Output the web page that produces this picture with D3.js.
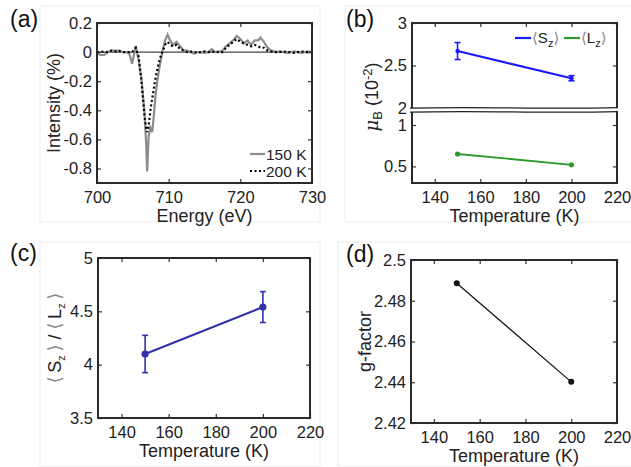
<!DOCTYPE html>
<html>
<head>
<meta charset="utf-8">
<script src="https://cdn.jsdelivr.net/npm/d3@7"></script>
<style>
body { margin: 0; background: #fff; }
svg { font-family: "Liberation Sans", Arial, "DejaVu Sans", sans-serif; }
</style>
</head>
<body>
<div id="chart"></div>
<script>
const w = 631;
const h = 467;

// (a) XMCD spectra
const energy = [700, 700.5, 701, 701.5, 702, 702.5, 703, 703.5, 704, 704.5, 704.9, 705.4, 705.8, 706.2, 706.6, 706.85, 707.0, 707.2, 707.45, 707.7, 707.9, 708.2, 708.5, 708.8, 709.2, 709.5, 709.85, 710.2, 710.6, 711.1, 711.6, 712.1, 712.6, 713, 713.5, 714, 714.5, 715, 715.5, 716, 716.5, 717, 717.5, 718, 718.5, 719, 719.5, 720, 720.5, 721, 721.5, 722, 722.5, 722.8, 723.3, 723.8, 724.3, 725, 725.5, 726, 726.5, 727, 727.5, 728, 728.5, 729, 729.5, 730];
const int150 = [-0.01, -0.02, -0.02, 0.0, 0.01, 0.01, 0.01, 0.0, 0.0, -0.01, -0.08, 0.04, -0.05, -0.18, -0.40, -0.62, -0.82, -0.58, -0.52, -0.55, -0.45, -0.28, -0.17, -0.08, 0.02, 0.08, 0.12, 0.08, 0.05, 0.07, 0.04, 0.01, 0.01, 0.0, -0.01, 0.0, 0.0, -0.005, 0.0, 0.02, 0.0, 0.0, 0.01, 0.04, 0.06, 0.08, 0.11, 0.09, 0.06, 0.08, 0.05, 0.08, 0.08, 0.10, 0.07, 0.03, 0.01, 0.0, 0.005, 0.0, -0.005, 0.0, 0.005, 0.0, -0.005, 0.0, 0.005, 0.0];
const int200 = [0.0, 0.0, 0.005, 0.0, 0.01, 0.005, 0.01, 0.0, 0.0, 0.0, 0.0, 0.03, -0.03, -0.20, -0.42, -0.52, -0.55, -0.51, -0.40, -0.32, -0.26, -0.17, -0.10, -0.04, 0.01, 0.05, 0.07, 0.05, 0.04, 0.05, 0.02, 0.01, 0.0, 0.005, 0.0, -0.005, 0.0, 0.005, 0.0, 0.0, 0.005, 0.0, 0.0, 0.03, 0.05, 0.07, 0.09, 0.07, 0.06, 0.05, 0.04, 0.05, 0.04, 0.03, 0.03, 0.01, 0.005, 0.0, 0.0, 0.005, 0.0, 0.0, -0.005, 0.0, 0.005, 0.0, 0.0, 0.0];
const xTicksA = [700, 710, 720, 730];
const yTicksA = [-0.8, -0.6, -0.4, -0.2, 0, 0.2];

// (b)-(d) against temperature
const temps = [150, 200];
const spinMom = [2.67, 2.35];
const spinErr = [0.10, 0.03];
const orbMom = [0.65, 0.52];
const ratio = [4.10, 4.54];
const ratioErr = [0.175, 0.145];
const gFactor = [2.4886, 2.4402];
const tempTicks = [140, 160, 180, 200, 220];
const yTicksBUp = [2, 2.5, 3];
const yTicksBLow = [0.5, 1];
const yTicksC = [3.5, 4, 4.5, 5];
const yTicksD = [2.42, 2.44, 2.46, 2.48, 2.5];

const svg = d3.select("#chart")
    .append("svg")
    .attr("width", w)
    .attr("height", h);

// faint panel borders
[[40, 6, 280, 216], [345, 6, 290, 216], [40, 242, 280, 224], [338, 242, 297, 224]].forEach(r => {
    svg.append("rect")
        .attr("x", r[0]).attr("y", r[1]).attr("width", r[2]).attr("height", r[3])
        .attr("fill", "none").attr("stroke", "#ececec").attr("stroke-width", 1);
});

const boxA = {l: 97, r: 312, t: 23, b: 183};
const boxB = {l: 412, r: 617, t: 23, b: 183};
const boxC = {l: 98, r: 310, t: 258, b: 418};
const boxD = {l: 411, r: 617, t: 260, b: 423};

function styleAxis(sel) {
    sel.select(".domain").remove();
    sel.selectAll("line").attr("stroke", "#333").attr("stroke-width", 1.2);
    sel.selectAll("text").attr("font-size", 16.5).attr("fill", "#222");
    sel.attr("font-family", null).attr("font-size", null);
}

function xAxes(box, x, ticks) {
    svg.append("g").attr("transform", `translate(0,${box.b})`)
        .call(d3.axisBottom(x).tickValues(ticks).tickSize(-4).tickPadding(8).tickFormat(d => String(d)))
        .call(styleAxis);
    svg.append("g").attr("transform", `translate(0,${box.t})`)
        .call(d3.axisTop(x).tickValues(ticks).tickSize(-4).tickFormat(""))
        .call(styleAxis);
}

function yAxes(box, y, ticks) {
    svg.append("g").attr("transform", `translate(${box.l},0)`)
        .call(d3.axisLeft(y).tickValues(ticks).tickSize(-4).tickPadding(5).tickFormat(d => String(d)))
        .call(styleAxis);
    svg.append("g").attr("transform", `translate(${box.r},0)`)
        .call(d3.axisRight(y).tickValues(ticks).tickSize(-4).tickFormat(""))
        .call(styleAxis);
}

function frame(box) {
    svg.append("rect")
        .attr("x", box.l).attr("y", box.t)
        .attr("width", box.r - box.l).attr("height", box.b - box.t)
        .attr("fill", "none").attr("stroke", "#2a2a2a").attr("stroke-width", 2);
}

function xTitle(box, txt) {
    svg.append("text")
        .attr("x", (box.l + box.r) / 2).attr("y", box.b + 39)
        .attr("text-anchor", "middle").attr("font-size", 18).attr("fill", "#222")
        .text(txt);
}

function panelLabel(x, y, txt) {
    svg.append("text").attr("x", x).attr("y", y)
        .attr("font-size", 23).attr("fill", "#111").text(txt);
}

function errorBars(x, y, vals, errs, color, cap) {
    const g = svg.append("g").attr("stroke", color).attr("stroke-width", 1.6);
    vals.forEach((v, i) => {
        const cx = x(temps[i]);
        g.append("line").attr("x1", cx).attr("x2", cx).attr("y1", y(v - errs[i])).attr("y2", y(v + errs[i]));
        [v - errs[i], v + errs[i]].forEach(e => {
            g.append("line").attr("x1", cx - cap).attr("x2", cx + cap).attr("y1", y(e)).attr("y2", y(e));
        });
    });
}

// ---------- (a) ----------
const xA = d3.scaleLinear().domain([700, 730]).range([boxA.l, boxA.r]);
const yA = d3.scaleLinear().domain([-0.9, 0.2]).range([boxA.b, boxA.t]);

svg.append("line")
    .attr("x1", boxA.l).attr("x2", boxA.r).attr("y1", yA(0)).attr("y2", yA(0))
    .attr("stroke", "#444").attr("stroke-width", 1.3);

const lineA = d3.line().x((d, i) => xA(energy[i])).y(d => yA(d));
svg.append("path").datum(int150).attr("d", lineA)
    .attr("fill", "none").attr("stroke", "#8c8c8c").attr("stroke-width", 2.2);
svg.append("path").datum(int200).attr("d", lineA)
    .attr("fill", "none").attr("stroke", "#000").attr("stroke-width", 2.2)
    .attr("stroke-dasharray", "2,2.5");

xAxes(boxA, xA, xTicksA);
yAxes(boxA, yA, yTicksA);
frame(boxA);
xTitle(boxA, "Energy (eV)");
svg.append("text")
    .attr("transform", `translate(60,${(boxA.t + boxA.b) / 2}) rotate(-90)`)
    .attr("text-anchor", "middle").attr("font-size", 18).attr("fill", "#222")
    .text("Intensity (%)");

// legend (a)
const legA = [["150 K", "#8c8c8c", null], ["200 K", "#000", "2,2.5"]];
legA.forEach((d, i) => {
    const ly = 154 + i * 17;
    svg.append("line").attr("x1", 250).attr("x2", 265).attr("y1", ly).attr("y2", ly)
        .attr("stroke", d[1]).attr("stroke-width", 2.2).attr("stroke-dasharray", d[2]);
    svg.append("text").attr("x", 266).attr("y", ly + 5.5)
        .attr("font-size", 15.5).attr("fill", "#222").text(d[0]);
});
panelLabel(10, 27, "(a)");

// ---------- (b) ----------
const xB = d3.scaleLinear().domain([130, 220]).range([boxB.l, boxB.r]);
const yBUp = d3.scaleLinear().domain([2, 3]).range([108, boxB.t]);
const yBLow = d3.scaleLinear().domain([0.3, 1]).range([boxB.b, 125]);

const spinLine = d3.line().x((d, i) => xB(temps[i])).y(d => yBUp(d));
svg.append("path").datum(spinMom).attr("d", spinLine)
    .attr("fill", "none").attr("stroke", "#1a1aff").attr("stroke-width", 2.2);
errorBars(xB, yBUp, spinMom, spinErr, "#1a1aff", 3);
svg.append("g").selectAll("circle").data(spinMom).join("circle")
    .attr("cx", (d, i) => xB(temps[i])).attr("cy", d => yBUp(d)).attr("r", 2.2).attr("fill", "#1a1aff");

const orbLine = d3.line().x((d, i) => xB(temps[i])).y(d => yBLow(d));
svg.append("path").datum(orbMom).attr("d", orbLine)
    .attr("fill", "none").attr("stroke", "#2e9a2e").attr("stroke-width", 1.8);
svg.append("g").selectAll("circle").data(orbMom).join("circle")
    .attr("cx", (d, i) => xB(temps[i])).attr("cy", d => yBLow(d)).attr("r", 2.6).attr("fill", "#2e9a2e");

xAxes(boxB, xB, tempTicks);
yAxes(boxB, yBUp, yTicksBUp);
yAxes(boxB, yBLow, yTicksBLow);
frame(boxB);

// axis break
const brk = svg.append("g");
brk.append("path")
    .attr("d", `M410,108.2 C480,106.2 540,109.5 618,107.6 L618,111.6 C540,113.5 480,110.2 410,112.2 Z`)
    .attr("fill", "#fff");
brk.append("path")
    .attr("d", "M410,108.2 C480,106.2 540,109.5 618,107.6")
    .attr("fill", "none").attr("stroke", "#222").attr("stroke-width", 1.3);
brk.append("path")
    .attr("d", "M410,112.2 C480,110.2 540,113.5 618,111.6")
    .attr("fill", "none").attr("stroke", "#222").attr("stroke-width", 1.3);

xTitle(boxB, "Temperature (K)");
const ylabB = svg.append("text")
    .attr("transform", "translate(378,97) rotate(-90)")
    .attr("text-anchor", "middle").attr("font-size", 18).attr("fill", "#222");
ylabB.append("tspan").attr("font-family", "DejaVu Serif").attr("font-style", "italic").text("μ");
ylabB.append("tspan").attr("font-size", 13).attr("dy", 4).text("B");
ylabB.append("tspan").attr("dy", -4).text(" (10");
ylabB.append("tspan").attr("font-size", 13).attr("dy", -6).text("-2");
ylabB.append("tspan").attr("dy", 6).text(")");

// legend (b)
function bracketLabel(sel, letter, gap) {
    sel.append("tspan").attr("fill", "#888").attr("font-family", "DejaVu Sans").text("⟨" + gap);
    sel.append("tspan").text(letter);
    sel.append("tspan").attr("font-size", 11).attr("dy", 4).text("z");
    sel.append("tspan").attr("fill", "#888").attr("font-family", "DejaVu Sans").attr("dy", -4).text(gap + "⟩");
}
const legB = [["S", "#1a1aff", 515], ["L", "#2e9a2e", 564]];
legB.forEach(d => {
    svg.append("line").attr("x1", d[2]).attr("x2", d[2] + 16).attr("y1", 38).attr("y2", 38)
        .attr("stroke", d[1]).attr("stroke-width", 2.2);
    const t = svg.append("text").attr("x", d[2] + 17).attr("y", 43)
        .attr("font-size", 15).attr("fill", "#222");
    bracketLabel(t, d[0], "");
});
panelLabel(346, 27, "(b)");

// ---------- (c) ----------
const xC = d3.scaleLinear().domain([130, 220]).range([boxC.l, boxC.r]);
const yC = d3.scaleLinear().domain([3.5, 5]).range([boxC.b, boxC.t]);
const ratioLine = d3.line().x((d, i) => xC(temps[i])).y(d => yC(d));
svg.append("path").datum(ratio).attr("d", ratioLine)
    .attr("fill", "none").attr("stroke", "#3232a8").attr("stroke-width", 2.2);
errorBars(xC, yC, ratio, ratioErr, "#3232a8", 3);
svg.append("g").selectAll("circle").data(ratio).join("circle")
    .attr("cx", (d, i) => xC(temps[i])).attr("cy", d => yC(d)).attr("r", 3.6).attr("fill", "#3232a8");

xAxes(boxC, xC, tempTicks);
yAxes(boxC, yC, yTicksC);
frame(boxC);
xTitle(boxC, "Temperature (K)");
const ylabC = svg.append("text")
    .attr("transform", `translate(61,${(boxC.t + boxC.b) / 2}) rotate(-90)`)
    .attr("text-anchor", "middle").attr("font-size", 18).attr("fill", "#222");
bracketLabel(ylabC, "S", "\u2009");
ylabC.append("tspan").text(" / ");
bracketLabel(ylabC, "L", "\u2009");
panelLabel(10, 261, "(c)");

// ---------- (d) ----------
const xD = d3.scaleLinear().domain([130, 220]).range([boxD.l, boxD.r]);
const yD = d3.scaleLinear().domain([2.42, 2.5]).range([boxD.b, boxD.t]);
const gLine = d3.line().x((d, i) => xD(temps[i])).y(d => yD(d));
svg.append("path").datum(gFactor).attr("d", gLine)
    .attr("fill", "none").attr("stroke", "#111").attr("stroke-width", 1.2);
svg.append("g").selectAll("circle").data(gFactor).join("circle")
    .attr("cx", (d, i) => xD(temps[i])).attr("cy", d => yD(d)).attr("r", 3).attr("fill", "#111");

xAxes(boxD, xD, tempTicks);
yAxes(boxD, yD, yTicksD);
frame(boxD);
xTitle(boxD, "Temperature (K)");
svg.append("text")
    .attr("transform", `translate(371,${(boxD.t + boxD.b) / 2}) rotate(-90)`)
    .attr("text-anchor", "middle").attr("font-size", 18).attr("fill", "#222")
    .text("g-factor");
panelLabel(346, 262, "(d)");
</script>
</body>
</html>
